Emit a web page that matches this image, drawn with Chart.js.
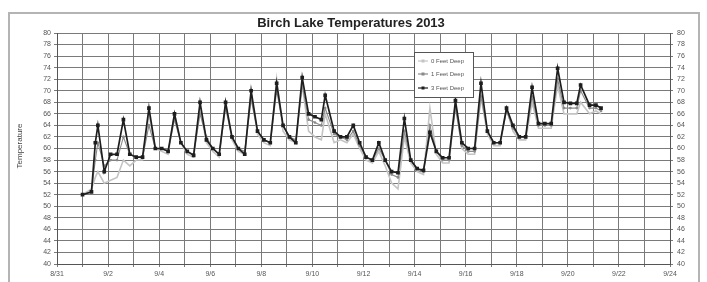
<!DOCTYPE html>
<html>
<head>
<meta charset="utf-8">
<script src="https://cdn.jsdelivr.net/npm/chart.js@4.4.0/dist/chart.umd.min.js"></script>
<style>
  html, body { margin: 0; padding: 0; background: #fff; }
  #wrap { width: 707px; height: 282px; }
</style>
</head>
<body>
<div id="wrap"><canvas id="grafico" width="707" height="282"></canvas></div>
<script>
// Etiquetas del eje X (cada 2 días, empezando el 8/31 = día 0)
const dateLabels = ['8/31', '9/2', '9/4', '9/6', '9/8', '9/10', '9/12', '9/14', '9/16', '9/18', '9/20', '9/22', '9/24'];

// Nombres de las series
const seriesNames = ['0 Feet Deep', '1 Feet Deep', '3 Feet Deep'];

// Tiempo en días desde 8/31
const times = [
  1.0, 1.35, 1.5, 1.6, 1.85,
  2.1, 2.35, 2.6, 2.85,
  3.1, 3.35, 3.6, 3.85,
  4.1, 4.35, 4.6, 4.85,
  5.1, 5.35, 5.6, 5.85,
  6.1, 6.35, 6.6, 6.85,
  7.1, 7.35, 7.6, 7.85,
  8.1, 8.35, 8.6, 8.85,
  9.1, 9.35, 9.6, 9.85,
  10.1, 10.35, 10.5, 10.85,
  11.1, 11.35, 11.6, 11.85,
  12.1, 12.35, 12.6, 12.85,
  13.1, 13.35, 13.6, 13.85,
  14.1, 14.35, 14.6, 14.85,
  15.1, 15.35, 15.6, 15.85,
  16.1, 16.35, 16.6, 16.85,
  17.1, 17.35, 17.6, 17.85,
  18.1, 18.35, 18.6, 18.85,
  19.1, 19.35, 19.6, 19.85,
  20.1, 20.35, 20.5, 20.85,
  21.1, 21.3
];

// Temperatura a 0 pies (superficie)
const temp0 = [
  52, 53, 55, 56, 54,
  54.5, 55, 58, 57,
  58, 58, 66, 60,
  59.5, 59, 66, 61,
  59, 58.5, 67, 61,
  59.5, 58.5, 68, 61.5,
  59.5, 59, 69.5, 62.5,
  61, 60.5, 72, 63,
  61.5, 61, 71, 63,
  62, 61.5, 66, 61,
  61.5, 61, 62.5, 60,
  58, 57.5, 59.5, 57,
  54, 53, 62, 57.5,
  56, 55.5, 67, 59,
  57.5, 57.5, 68, 60,
  59, 59, 69, 62.5,
  60.5, 60.5, 67, 63,
  61.5, 61.5, 68, 63.5,
  63.5, 63.5, 71, 66,
  66, 66, 68, 66,
  66.5, 66
];

// Temperatura a 1 pie
const temp1 = [
  52, 52.5, 58, 61, 57,
  58, 58, 62, 59,
  58.5, 58.5, 64, 60,
  60, 59.5, 65, 61,
  59.5, 59, 66, 62,
  60, 59, 67, 62,
  60, 59.5, 68.5, 63,
  61.5, 61, 70, 64,
  62, 61.5, 71, 65,
  64.5, 64, 67, 62.5,
  62, 61.5, 63, 60.5,
  58.5, 58, 60, 58,
  55.5, 55, 63, 58,
  56.5, 56, 64, 59.5,
  58, 58, 67, 60.5,
  59.5, 59.5, 69, 63,
  61, 61, 66.5, 63.5,
  62, 62, 69, 64,
  64, 64, 72, 67,
  67, 67, 70, 67,
  67, 66.5
];

// Temperatura a 3 pies
const temp3 = [
  52, 52.5, 61, 64, 56,
  59, 59, 65, 59,
  58.5, 58.5, 67, 60,
  60, 59.5, 66, 61,
  59.5, 58.8, 68, 61.5,
  60, 59, 68, 62,
  60, 59, 70, 63,
  61.5, 61, 71.3, 64,
  62, 61, 72.3, 66,
  65.5, 65, 69.2, 63,
  62, 62, 64, 61,
  58.5, 58, 61, 58,
  56, 55.8, 65.2, 58,
  56.5, 56.2, 62.8, 59.5,
  58.4, 58.4, 68.3, 61,
  60, 60, 71.3, 63,
  61, 61, 67, 64,
  62, 62, 70.6, 64.3,
  64.3, 64.3, 73.9, 68,
  67.8, 67.8, 71, 67.5,
  67.5, 67
];

const colores = ['#c4c4c4', '#8a8a8a', '#1e1e1e'];

function puntos(valores) {
  return times.map((t, i) => ({ x: t, y: valores[i] }));
}

// Marco, título, título del eje Y y leyenda
const decoraciones = {
  id: 'decoraciones',
  beforeDraw(chart) {
    const ctx = chart.ctx;
    ctx.save();
    ctx.fillStyle = '#fff';
    ctx.fillRect(0, 0, chart.width, chart.height);
    ctx.strokeStyle = '#b4b4b4';
    ctx.lineWidth = 2;
    ctx.strokeRect(9, 13, 690, 280);
    ctx.restore();
  },
  afterDraw(chart) {
    const ctx = chart.ctx;
    ctx.save();
    ctx.fillStyle = '#222';
    ctx.font = 'bold 13px "Liberation Sans", Arial, sans-serif';
    ctx.textAlign = 'center';
    ctx.textBaseline = 'middle';
    ctx.fillText('Birch Lake Temperatures 2013', 351, 23);

    ctx.font = '8px "Liberation Sans", Arial, sans-serif';
    ctx.fillStyle = '#444';
    ctx.translate(20, 146);
    ctx.rotate(-Math.PI / 2);
    ctx.fillText('Temperature', 0, 0);
    ctx.restore();

    // Leyenda
    ctx.save();
    ctx.fillStyle = '#fff';
    ctx.fillRect(414, 52, 59, 45);
    ctx.strokeStyle = '#555';
    ctx.lineWidth = 1;
    ctx.strokeRect(414.5, 52.5, 59, 45);
    ctx.font = '6px "Liberation Sans", Arial, sans-serif';
    ctx.textBaseline = 'middle';
    ctx.textAlign = 'left';
    const filas = [61, 74, 88];
    seriesNames.forEach((nombre, i) => {
      const y = filas[i];
      ctx.strokeStyle = colores[i];
      ctx.lineWidth = 1.2;
      ctx.beginPath();
      ctx.moveTo(418, y);
      ctx.lineTo(428, y);
      ctx.stroke();
      ctx.fillStyle = colores[i];
      ctx.fillRect(421.5, y - 1.5, 3, 3);
      ctx.fillStyle = '#555';
      ctx.fillText(nombre, 431, y);
    });
    ctx.restore();
  }
};

const fuenteTicks = { family: '"Liberation Sans", Arial, sans-serif', size: 7 };

new Chart(document.getElementById('grafico'), {
  type: 'line',
  data: {
    datasets: [
      { label: seriesNames[0], data: puntos(temp0), borderColor: colores[0], backgroundColor: colores[0], borderWidth: 1.6, pointRadius: 0, order: 3 },
      { label: seriesNames[1], data: puntos(temp1), borderColor: colores[1], backgroundColor: colores[1], borderWidth: 1.1, pointRadius: 0.8, order: 2 },
      { label: seriesNames[2], data: puntos(temp3), borderColor: colores[2], backgroundColor: colores[2], borderWidth: 1.7, pointRadius: 1.4, pointStyle: 'rect', order: 1 }
    ]
  },
  options: {
    responsive: false,
    animation: false,
    layout: { padding: { left: 0, right: 0, top: 33, bottom: 0 } },
    plugins: {
      legend: { display: false },
      title: { display: false },
      tooltip: { enabled: false }
    },
    scales: {
      x: {
        type: 'linear',
        min: 0,
        max: 24,
        afterFit(scale) { scale.height = 18; },
        ticks: {
          stepSize: 1,
          autoSkip: false,
          maxRotation: 0,
          padding: 3,
          color: '#555',
          font: fuenteTicks,
          callback: v => (v % 2 === 0 ? dateLabels[v / 2] : '')
        },
        grid: { color: '#7a7a7a', lineWidth: 1, tickLength: 3 },
        border: { color: '#555' }
      },
      y: {
        position: 'left',
        min: 40,
        max: 80,
        afterFit(scale) { scale.width = 57; },
        ticks: { stepSize: 2, padding: 3, color: '#555', font: fuenteTicks },
        grid: { color: '#7a7a7a', lineWidth: 1, tickLength: 3 },
        border: { color: '#555' }
      },
      y2: {
        position: 'right',
        min: 40,
        max: 80,
        afterFit(scale) { scale.width = 37; },
        ticks: { stepSize: 2, padding: 4, color: '#555', font: fuenteTicks },
        grid: { drawOnChartArea: false, tickLength: 3, color: '#7a7a7a' },
        border: { color: '#555' }
      }
    }
  },
  plugins: [decoraciones]
});
</script>
</body>
</html>
